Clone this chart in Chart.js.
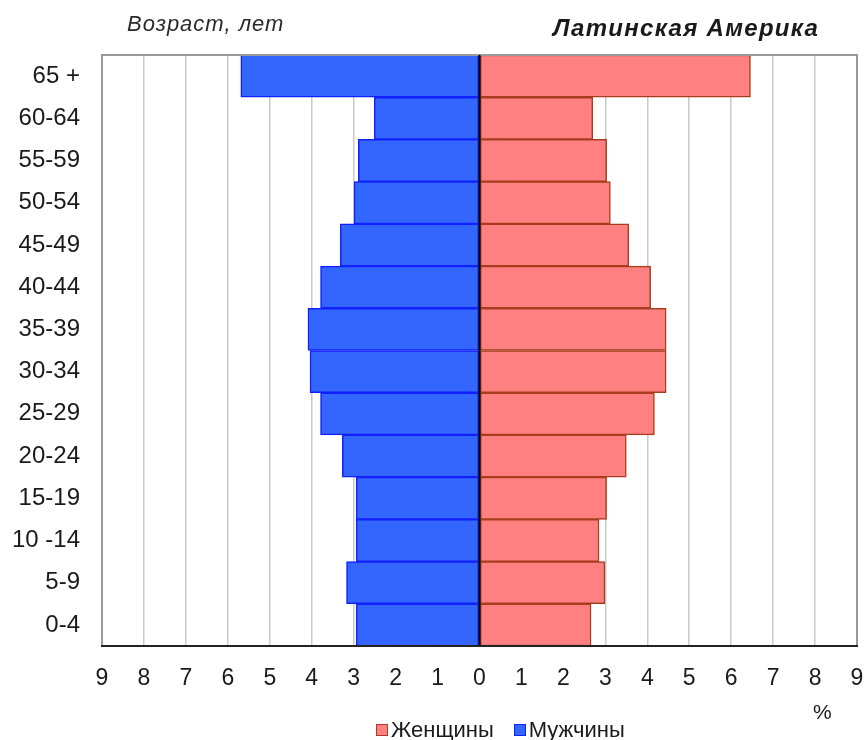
<!DOCTYPE html>
<html lang="ru">
<head>
<meta charset="utf-8">
<title>Латинская Америка</title>
<script src="https://cdn.jsdelivr.net/npm/chart.js@4.4.1/dist/chart.umd.min.js"></script>
<style>
  html, body { margin: 0; padding: 0; background: #fff; }
  #wrap { position: relative; width: 864px; height: 740px; overflow: hidden; font-family: "Liberation Sans", Arial, sans-serif; color: #1a1a1a; }
  #wrap canvas { position: absolute; left: 0; top: 0; }
  .txt { position: absolute; white-space: nowrap; }
  #yTitle { left: 127px; top: 12px; font-size: 22px; line-height: 24px; font-style: italic; letter-spacing: 1px; color: #2a2a2a; }
  #title { left: 553px; top: 15px; font-size: 24px; line-height: 26px; font-style: italic; font-weight: bold; letter-spacing: 1.3px; }
  #unit { left: 813px; top: 700px; font-size: 21px; line-height: 24px; }
  #legend { left: 376px; top: 718px; font-size: 22px; line-height: 24px; display: flex; align-items: center; }
  #legend .sw { display: inline-block; width: 10px; height: 10px; border: 1px solid; margin-right: 3px; }
  #legend .item { display: inline-flex; align-items: center; margin-right: 20px; }
</style>
</head>
<body>
<div id="wrap">
  <canvas id="pyramid" width="864" height="740"></canvas>
  <div class="txt" id="yTitle">Возраст, лет</div>
  <div class="txt" id="title">Латинская Америка</div>
  <div class="txt" id="unit">%</div>
  <div class="txt" id="legend"></div>
</div>
<script>
// Возрастные группы (сверху вниз)
const ageGroups = ['65 +', '60-64', '55-59', '50-54', '45-49', '40-44', '35-39',
                   '30-34', '25-29', '20-24', '15-19', '10 -14', '5-9', '0-4'];

// Доля населения, %
const women = [6.46, 2.70, 3.03, 3.12, 3.56, 4.08, 4.45, 4.45, 4.17, 3.50, 3.03, 2.85, 2.99, 2.66];
const men   = [5.69, 2.51, 2.89, 2.99, 3.32, 3.79, 4.09, 4.04, 3.79, 3.27, 2.94, 2.94, 3.17, 2.94];

const seriesNames = ['Женщины', 'Мужчины'];
const seriesFill = ['#ff8080', '#3366ff'];
const seriesBorder = ['#a83c1e', '#1020ff'];

const axisMax = 9;

const fontFamily = '"Liberation Sans", Arial, sans-serif';

// Легенда
const legendEl = document.getElementById('legend');
seriesNames.forEach((name, i) => {
    legendEl.insertAdjacentHTML('beforeend',
        `<span class="item"><span class="sw" style="background:${seriesFill[i]};border-color:${seriesBorder[i]}"></span>${name}</span>`);
});

// Рамка области построения и линия нуля поверх столбцов
const framePlugin = {
    id: 'frame',
    afterDatasetsDraw(chart) {
        const { ctx, chartArea, scales } = chart;
        ctx.save();
        ctx.strokeStyle = '#9a9a9a';
        ctx.lineWidth = 2;
        ctx.beginPath();
        ctx.moveTo(chartArea.left, chartArea.bottom);
        ctx.lineTo(chartArea.left, chartArea.top);
        ctx.lineTo(chartArea.right, chartArea.top);
        ctx.lineTo(chartArea.right, chartArea.bottom);
        ctx.stroke();
        const x0 = scales.x.getPixelForValue(0);
        ctx.strokeStyle = '#000';
        ctx.beginPath();
        ctx.moveTo(x0, chartArea.top);
        ctx.lineTo(x0, chartArea.bottom);
        ctx.stroke();
        ctx.strokeStyle = '#222';
        ctx.beginPath();
        ctx.moveTo(chartArea.left - 1, chartArea.bottom);
        ctx.lineTo(chartArea.right + 1, chartArea.bottom);
        ctx.stroke();
        ctx.restore();
    }
};

new Chart(document.getElementById('pyramid').getContext('2d'), {
    type: 'bar',
    data: {
        labels: ageGroups,
        datasets: [
            {
                label: seriesNames[0],
                data: women,
                backgroundColor: seriesFill[0],
                borderColor: seriesBorder[0],
                borderWidth: 1.5,
                borderSkipped: false,
                barPercentage: 1,
                categoryPercentage: 1
            },
            {
                label: seriesNames[1],
                data: men.map(v => -v),
                backgroundColor: seriesFill[1],
                borderColor: seriesBorder[1],
                borderWidth: 1.5,
                borderSkipped: false,
                barPercentage: 1,
                categoryPercentage: 1
            }
        ]
    },
    options: {
        indexAxis: 'y',
        responsive: false,
        animation: false,
        layout: { padding: { top: 55, right: 7, left: 0, bottom: 0 } },
        plugins: {
            legend: { display: false },
            tooltip: { enabled: false }
        },
        scales: {
            x: {
                stacked: true,
                min: -axisMax,
                max: axisMax,
                afterFit: (scale) => {
                    scale.height = 94;
                    scale.paddingLeft = 0;
                    scale.paddingRight = 0;
                },
                border: { display: false },
                grid: {
                    drawTicks: false,
                    color: '#cacaca',
                    lineWidth: 1.5
                },
                ticks: {
                    stepSize: 1,
                    padding: 19,
                    color: '#1a1a1a',
                    font: { family: fontFamily, size: 23 },
                    maxRotation: 0,
                    autoSkip: false,
                    callback: (v) => Math.abs(v)
                }
            },
            y: {
                stacked: true,
                afterFit: (scale) => { scale.width = 102; },
                border: { display: false },
                grid: { display: false },
                ticks: {
                    padding: 14,
                    color: '#1a1a1a',
                    font: { family: fontFamily, size: 24 },
                    autoSkip: false
                }
            }
        }
    },
    plugins: [framePlugin]
});
</script>
</body>
</html>
